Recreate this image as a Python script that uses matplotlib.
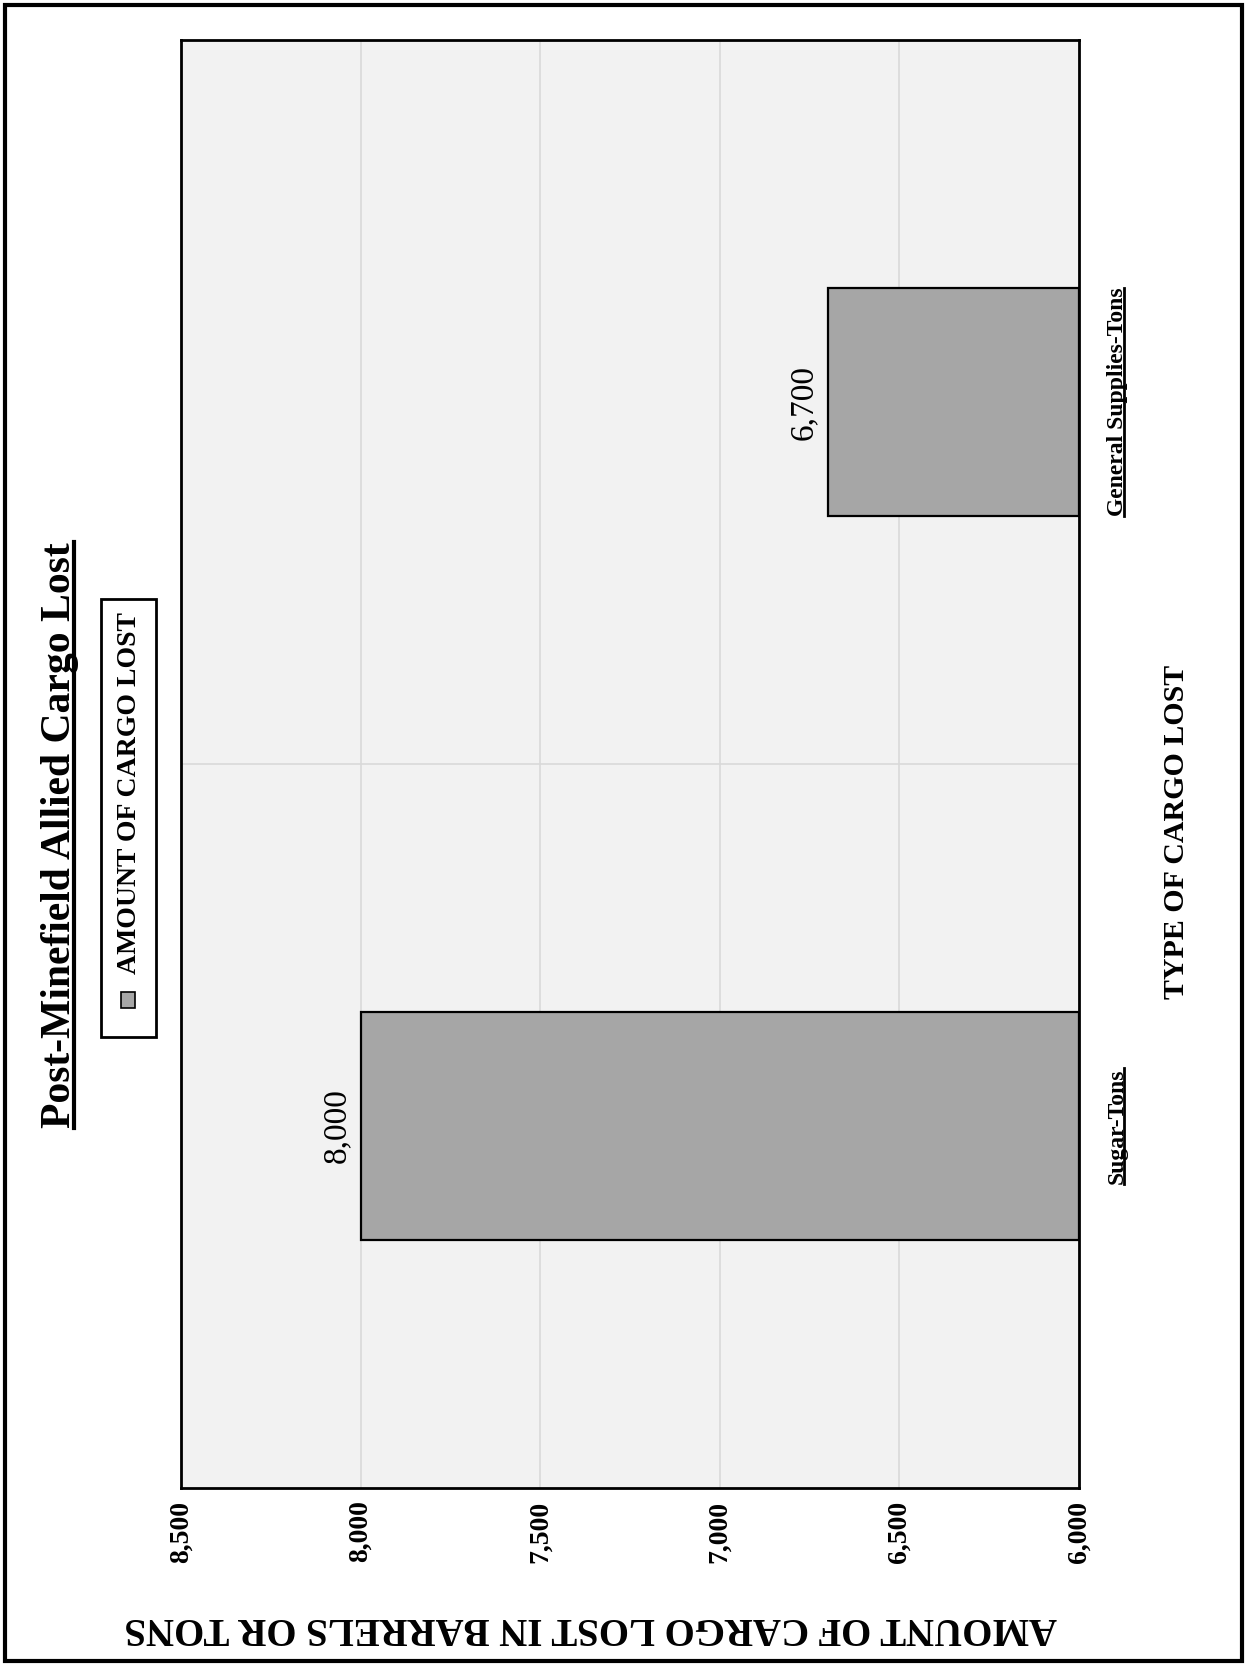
import matplotlib
matplotlib.use("Agg")
import matplotlib.pyplot as plt
from matplotlib.patches import Rectangle
from matplotlib.lines import Line2D
from matplotlib.transforms import blended_transform_factory
from matplotlib.ticker import FuncFormatter

plt.rcParams['font.family'] = ['Liberation Serif', 'DejaVu Serif']

# data
categories = ["Sugar-Tons", "General Supplies-Tons"]
amounts = [8000, 6700]
value_labels = ["8,000", "6,700"]
ticks = [6000, 6500, 7000, 7500, 8000, 8500]

title = "Post-Minefield Allied Cargo Lost"
legend_label = "AMOUNT OF CARGO LOST"
value_axis_label = "AMOUNT OF CARGO LOST IN BARRELS OR TONS"
cat_axis_label = "TYPE OF CARGO LOST"

W, H = 1247, 1667
fig = plt.figure(figsize=(W / 100, H / 100), dpi=100)

def fx(px):
    return px / W

def fy(py):
    return 1 - py / H

# axes (chart is drawn turned on its side)
ax = fig.add_axes([fx(181), fy(1488), fx(1079) - fx(181), (1488 - 40) / H])
ax.set_facecolor('#f2f2f2')
ax.set_xlim(8500, 6000)
ax.set_ylim(-0.5, 1.5)

base = 6000
ypos = list(range(len(categories)))
ax.barh(ypos, [a - base for a in amounts], left=base, height=0.315,
        color='#a6a6a6', edgecolor='black', linewidth=1.6, zorder=3)

# gridlines
for t in ticks:
    ax.axvline(t, color='#d9d9d9', linewidth=1.2, zorder=1)
ax.axhline(0.5, color='#d9d9d9', linewidth=1.2, zorder=1)

for s in ax.spines.values():
    s.set_linewidth(2)
    s.set_color('black')

ax.set_xticks(ticks)
ax.xaxis.set_major_formatter(FuncFormatter(lambda v, p: f"{int(v):,}"))
ax.tick_params(axis='x', length=0, pad=9, labelsize=20, labelrotation=90)
for lab in ax.get_xticklabels():
    lab.set_fontweight('bold')
ax.set_yticks([])

# value labels
for y, a, lab in zip(ypos, amounts, value_labels):
    ax.annotate(lab, xy=(a, y), xytext=(-6, 0), textcoords='offset points',
                rotation=90, ha='right', va='center', fontsize=24, zorder=4)

# category labels (right side)
tr = blended_transform_factory(fig.transFigure, ax.transData)
cat_texts = []
for y, c in zip(ypos, categories):
    t = ax.text(fx(1117), y, c, transform=tr, rotation=90, ha='center',
                va='center', fontsize=17, fontweight='bold')
    cat_texts.append(t)

fig.text(fx(1177), fy(832), cat_axis_label, rotation=90, ha='center',
         va='center', fontsize=21.5, fontweight='bold')

fig.text(fx(591), fy(1627), value_axis_label, rotation=180, ha='center',
         va='center', fontsize=28, fontweight='bold')

title_txt = fig.text(fx(60), fy(835), title, rotation=90, ha='center',
                     va='center', fontsize=30, fontweight='bold')

# legend box
fig.patches.append(Rectangle((fx(101), fy(1037)), fx(156) - fx(101), (1037 - 599) / H,
                             transform=fig.transFigure, facecolor='white',
                             edgecolor='black', linewidth=2))
fig.patches.append(Rectangle((fx(121), fy(1008)), fx(135) - fx(121), 16 / H,
                             transform=fig.transFigure, facecolor='#a6a6a6',
                             edgecolor='black', linewidth=1.2))
fig.text(fx(129), fy(793), legend_label, rotation=90, ha='center',
         va='center', fontsize=20, fontweight='bold')

# outer frame
fig.patches.append(Rectangle((fx(5), fy(1661)), fx(1242) - fx(5), (1661 - 5) / H,
                             transform=fig.transFigure, facecolor='none',
                             edgecolor='black', linewidth=3))

# underlines for title and category labels
fig.canvas.draw()
renderer = fig.canvas.get_renderer()
for t, lw in [(title_txt, 3)] + [(c, 2) for c in cat_texts]:
    bb = t.get_window_extent(renderer)
    size_px = t.get_fontsize() * 100 / 72
    x = bb.x1 - 0.13 * size_px
    fig.lines.append(Line2D([x / W, x / W], [bb.y0 / H, bb.y1 / H],
                            transform=fig.transFigure, color='black', linewidth=lw))

fig.savefig("out.png", dpi=100)
